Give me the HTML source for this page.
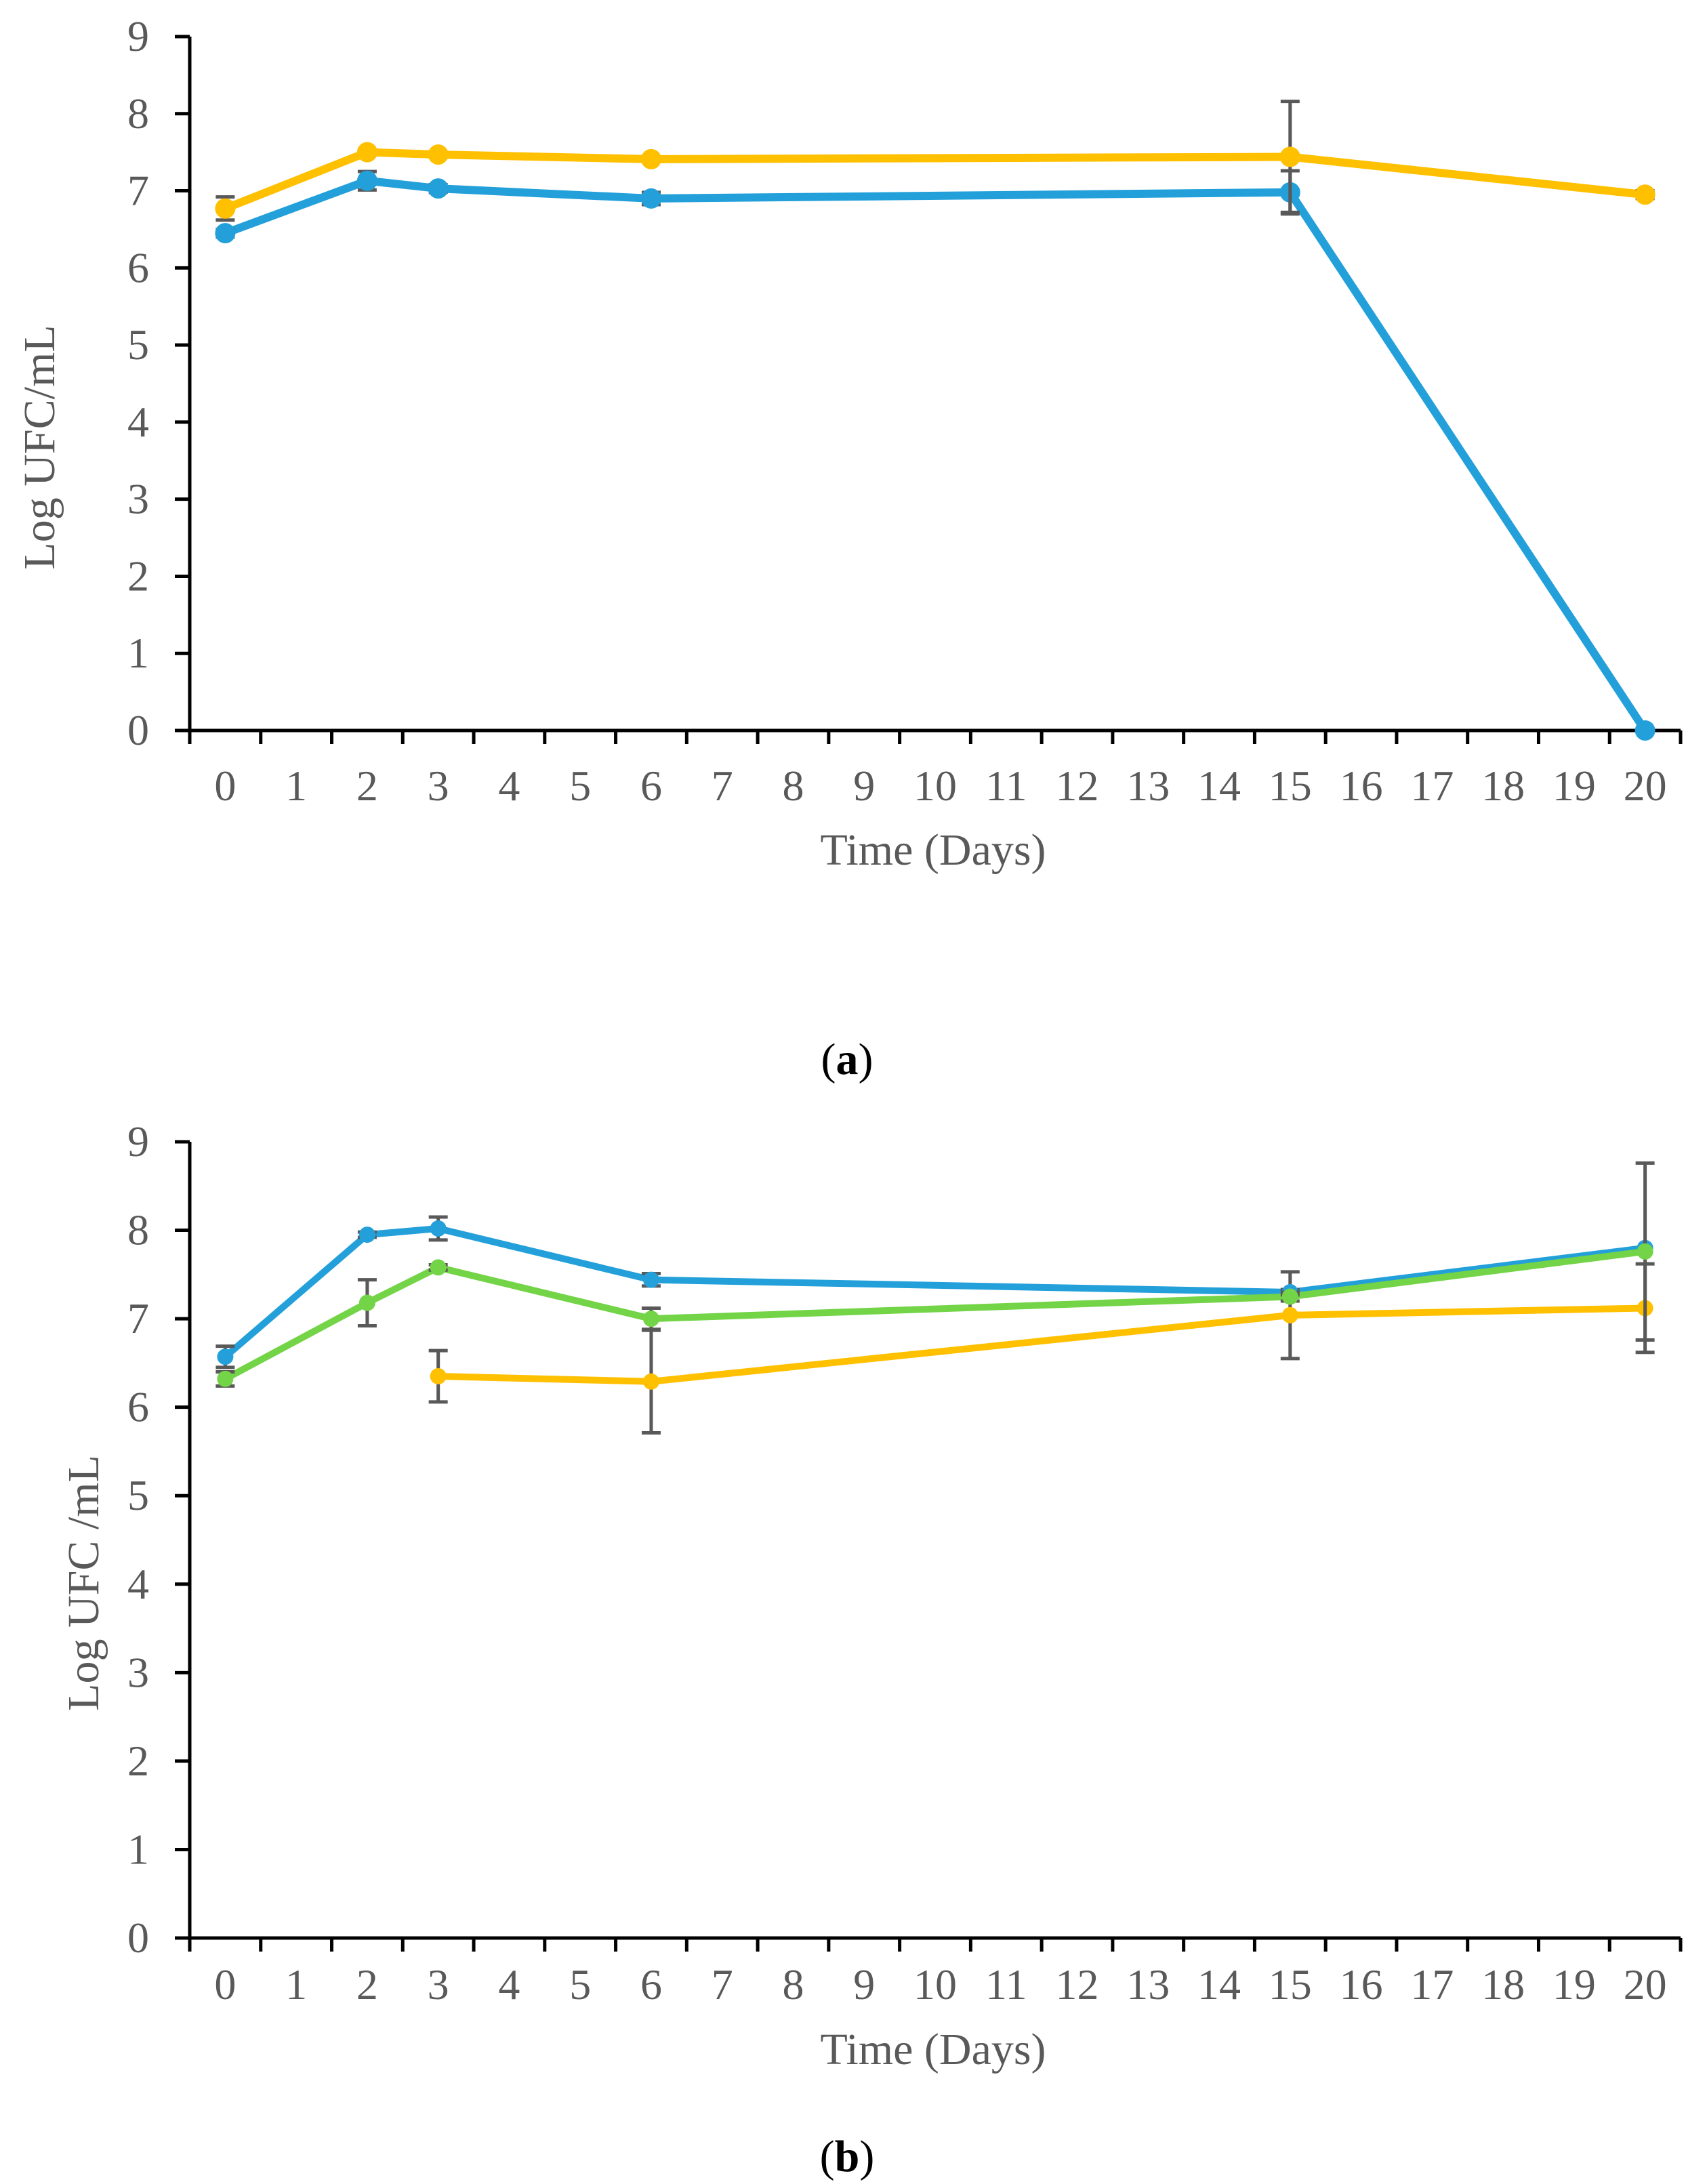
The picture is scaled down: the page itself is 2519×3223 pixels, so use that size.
<!DOCTYPE html>
<html><head><meta charset="utf-8"><style>
html,body{margin:0;padding:0;background:#fff;}
svg{display:block;}
text{font-family:"Liberation Serif",serif;fill:#595959;}
</style></head><body>
<svg id="svg" width="2519" height="3223" viewBox="0 0 2519 3223" xmlns="http://www.w3.org/2000/svg">
<g id="chartA"></g>
<g id="chartB"></g>
<text x="1250" y="1585" text-anchor="middle" font-size="66" style="fill:#000">(<tspan font-weight="bold">a</tspan>)</text>
<text x="1250" y="3204" text-anchor="middle" font-size="66" style="fill:#000">(<tspan font-weight="bold">b</tspan>)</text>
</svg>
<script>
const categories = ["0","1","2","3","4","5","6","7","8","9","10","11","12","13","14","15","16","17","18","19","20"];
const yTicks = [0,1,2,3,4,5,6,7,8,9];
const sampleDays = [0,2,3,6,15,20];
// Panel a
const aYellow = [6.77,7.50,7.47,7.41,7.44,6.95];
const aYellowErr = [0.15,0.03,0.03,0.03,0.72,0.05];
const aBlue = [6.45,7.13,7.03,6.90,6.98,0];
const aBlueErr = [0.05,0.12,0.05,0.08,0.28,0];
// Panel b
const bBlue = [6.57,7.95,8.02,7.44,7.30,7.80];
const bBlueErr = [0.12,0.03,0.13,0.07,0.03,0];
const bGreen = [6.32,7.18,7.58,7.00,7.25,7.76];
const bGreenErr = [0.08,0.26,0.03,0.12,0.05,1.0];
const bYellow = [null,null,6.35,6.29,7.04,7.12];
const bYellowErr = [0,0,0.29,0.58,0.49,0.50];

const NS="http://www.w3.org/2000/svg";
function mk(tag,attrs,parent){const e=document.createElementNS(NS,tag);for(const k in attrs)e.setAttribute(k,attrs[k]);parent.appendChild(e);return e;}

function drawChart(g,cfg,series){
  const x0=280,x1=2480,cw=(x1-x0)/categories.length;
  const xS=d=>x0+(categories.indexOf(String(d))+0.5)*cw;
  const yS=v=>cfg.y0-(v/9)*(cfg.y0-cfg.y9);
  // axes
  let ax=mk('line',{x1:x0,y1:cfg.y9,x2:x0,y2:cfg.y0,stroke:'#000','stroke-width':5},g);
  
  
  let bx=mk('line',{x1:x0-22,y1:cfg.y0,x2:x1,y2:cfg.y0,stroke:'#000','stroke-width':5},g);
  
  
  yTicks.forEach(t=>{
    const y=yS(t);
    const tk=mk('line',{x1:x0-22,y1:y,x2:x0,y2:y,stroke:'#000','stroke-width':5},g);
    
    
    const tl=mk('text',{x:220,y:y+21,'text-anchor':'end','font-size':64},g);
    tl.textContent=t;
    
    
  });
  for(let i=0;i<=categories.length;i++){
    const x=x0+i*cw;
    const tk=mk('line',{x1:x,y1:cfg.y0,x2:x,y2:cfg.y0+20,stroke:'#000','stroke-width':5},g);
    
    
  }
  categories.forEach((c,i)=>{
    const tl=mk('text',{x:x0+(i+0.5)*cw,y:cfg.xlab,'text-anchor':'middle','font-size':64},g);
    tl.textContent=c;
    
    
  });
  const xt=mk('text',{x:1377,y:cfg.xt,'text-anchor':'middle','font-size':66},g);
  xt.textContent='Time (Days)';
  
  
  const yt=mk('text',{x:0,y:0,'text-anchor':'middle','font-size':66,transform:`translate(${cfg.ytx},${cfg.yty}) rotate(-90)`},g);
  yt.textContent=cfg.ytitle;
  
  
  // series lines
  series.forEach(s=>{
    const pts=[];
    s.vals.forEach((v,i)=>{if(v!==null)pts.push([xS(sampleDays[i]),yS(v)]);});
    const pl=mk('polyline',{points:pts.map(p=>p.join(',')).join(' '),fill:'none',stroke:s.color,'stroke-width':cfg.lw,'stroke-linejoin':'round'},g);
    
    
  });
  // error bars and markers
  series.forEach(s=>{
    s.vals.forEach((v,i)=>{
      if(v===null)return;
      const x=xS(sampleDays[i]),e=s.err[i];
      if(e>0){
        const eg=mk('g',{stroke:'#595959','stroke-width':5},g);
        
        
        mk('line',{x1:x,y1:yS(v+e),x2:x,y2:yS(v-e)},eg);
        mk('line',{x1:x-14,y1:yS(v+e),x2:x+14,y2:yS(v+e)},eg);
        mk('line',{x1:x-14,y1:yS(v-e),x2:x+14,y2:yS(v-e)},eg);
      }
      const c=mk('circle',{cx:x,cy:yS(v),r:cfg.r,fill:s.color},g);
      
      
    });
  });
}
drawChart(document.getElementById('chartA'),{y0:1078,y9:54,xlab:1181,xt:1276,ytx:80,yty:660,ytitle:'Log UFC/mL',lw:12,r:15},
  [{name:'blue-series',vals:aBlue,err:aBlueErr,color:'#23A0DA'},{name:'yellow-series',vals:aYellow,err:aYellowErr,color:'#FFC000'}]);
drawChart(document.getElementById('chartB'),{y0:2860,y9:1685,xlab:2950,xt:3046,ytx:145,yty:2336,ytitle:'Log UFC /mL',lw:10,r:12},
  [{name:'yellow-series',vals:bYellow,err:bYellowErr,color:'#FFC000'},{name:'blue-series',vals:bBlue,err:bBlueErr,color:'#23A0DA'},{name:'green-series',vals:bGreen,err:bGreenErr,color:'#72D446'}]);
</script>
</body></html>
